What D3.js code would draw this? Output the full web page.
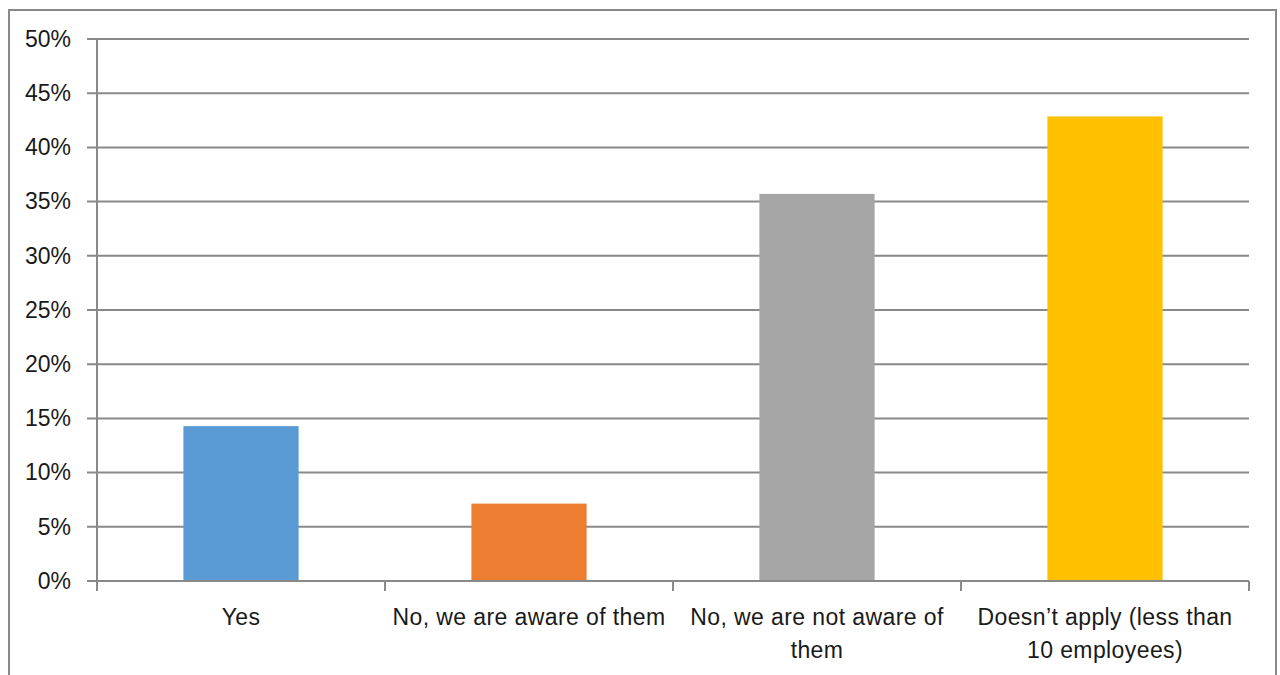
<!DOCTYPE html>
<html><head><meta charset="utf-8">
<script src="https://cdn.jsdelivr.net/npm/d3@7"></script>
<style>body{margin:0;background:#fff}svg{display:block}text{font-family:"Liberation Sans",Arial,sans-serif;fill:#1a1a1a}</style>
</head><body><svg id="c" width="1280" height="675"></svg>
<script>
const categories = ["Yes", "No, we are aware of them", "No, we are not aware of them", "Doesn\u2019t apply (less than 10 employees)"];
const labelLines = [["Yes"], ["No, we are aware of them"], ["No, we are not aware of", "them"], ["Doesn\u2019t apply (less than", "10 employees)"]];
const values = [0.1429, 0.0714, 0.3571, 0.4286];
const colors = ["#5B9BD5", "#ED7D31", "#A5A5A5", "#FFC000"];
const yTicks = [0,0.05,0.1,0.15,0.2,0.25,0.3,0.35,0.4,0.45,0.5];

const svg = d3.select("#c");
const L = 97, R = 1249, T = 39, B = 581;
const grey = "#898989";
svg.append("rect").attr("x",9).attr("y",10).attr("width",1267).attr("height",700)
  .attr("fill","none").attr("stroke",grey).attr("stroke-width",2);

const x = d3.scaleBand().domain(categories).range([L,R]).paddingInner(0.6).paddingOuter(0.3);
const y = d3.scaleLinear().domain([0,0.5]).range([B,T]);

// gridlines
svg.append("g").selectAll("line").data(yTicks).join("line")
  .attr("x1",L-10).attr("x2",R).attr("y1",d=>y(d)).attr("y2",d=>y(d))
  .attr("stroke",grey).attr("stroke-width",2);

// bars
svg.append("g").selectAll("rect").data(values).join("rect")
  .attr("x",(d,i)=>x(categories[i])).attr("width",x.bandwidth())
  .attr("y",d=>y(d)).attr("height",d=>B-y(d)).attr("fill",(d,i)=>colors[i]);

// y axis
const ya = d3.axisLeft(y).tickValues(yTicks).tickFormat(d3.format(".0%")).tickSize(0).tickPadding(26);
const yg = svg.append("g").attr("transform",`translate(${L},0)`).call(ya);
yg.select(".domain").remove();
yg.selectAll("text").attr("font-size",23).attr("font-family","Liberation Sans, Arial, sans-serif").attr("fill","#1a1a1a");
svg.append("line").attr("x1",L).attr("x2",L).attr("y1",T).attr("y2",B+10).attr("stroke",grey).attr("stroke-width",2);

// x axis ticks at band boundaries
const bounds = d3.range(categories.length+1).map(i=> L + i*(R-L)/categories.length);
svg.append("g").selectAll("line").data(bounds).join("line")
  .attr("x1",d=>d).attr("x2",d=>d).attr("y1",B).attr("y2",B+10).attr("stroke",grey).attr("stroke-width",2);
svg.append("line").attr("x1",L).attr("x2",R).attr("y1",B).attr("y2",B).attr("stroke",grey).attr("stroke-width",2);

// category labels
const lg = svg.append("g");
categories.forEach((c,i)=>{
  const cx = x(c) + x.bandwidth()/2;
  const t = lg.append("text").attr("text-anchor","middle").attr("font-size",23).attr("letter-spacing","0.4px");
  labelLines[i].forEach((ln,j)=>{
    t.append("tspan").attr("x",cx).attr("y",B+44+j*33).text(ln);
  });
});
</script></body></html>
